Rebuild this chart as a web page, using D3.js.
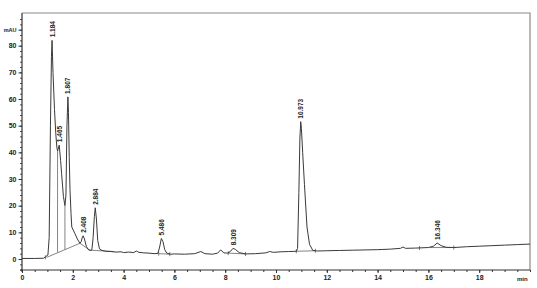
<!DOCTYPE html>
<html><head><meta charset="utf-8">
<script src="https://cdn.jsdelivr.net/npm/d3@7"></script>
<style>
html,body{margin:0;padding:0;background:#fff;}
svg{display:block;}
text{font-family:"Liberation Sans",Arial,sans-serif;}
</style></head>
<body>
<svg id="c" width="537" height="288"></svg>
<script>
// ---- data ----
const timeMin = [0.0,0.5,0.85,0.92,1.02,1.07,1.12,1.16,1.184,1.22,1.28,1.33,1.37,1.40,1.465,1.52,1.56,1.63,1.69,1.73,1.77,1.807,1.83,1.86,1.89,1.93,1.96,2.08,2.18,2.28,2.33,2.38,2.408,2.46,2.53,2.60,2.68,2.75,2.80,2.85,2.884,2.93,2.98,3.05,3.15,3.3,3.5,3.7,3.9,4.0,4.2,4.4,4.5,4.6,4.8,5.0,5.2,5.35,5.42,5.486,5.55,5.62,5.7,5.85,6.0,6.4,6.8,7.04,7.2,7.5,7.7,7.82,7.95,8.1,8.2,8.309,8.4,8.55,8.8,9.2,9.6,9.75,9.9,10.2,10.5,10.8,10.85,10.90,10.94,10.973,11.0,11.05,11.12,11.22,11.32,11.45,11.65,12.0,12.5,13.0,13.5,14.0,14.5,14.9,15.0,15.1,15.5,16.0,16.2,16.346,16.5,16.7,17.0,17.5,18.0,18.5,19.0,19.5,20.0];
const signalMAU = [0.2,0.2,0.3,0.8,1.5,8,50,76,82,70,56,47,42,40.5,42.7,37,32,23.5,20,24,50,60.8,55,38,26,17,12,9.6,7.5,5.9,6.5,8.3,8.7,7.5,4.8,3.6,3.2,3.4,8,16,19.2,15,7,3.8,3.2,2.9,2.8,2.6,2.7,2.4,2.6,2.4,3.0,2.5,2.3,2.2,2.0,2.1,4.5,7.7,6.5,3.5,2.2,1.8,1.9,1.8,2.0,2.8,2.0,1.8,2.2,3.4,2.3,2.2,2.8,4.0,3.6,2.4,1.9,2.0,2.3,2.8,2.5,2.7,2.8,2.9,4,25,45,51.5,49,40,28,12,5.5,3.2,3.0,3.1,3.2,3.3,3.4,3.5,3.7,4.0,4.5,4.0,4.1,4.3,4.8,6.0,5.0,4.4,4.3,4.6,4.8,5.0,5.2,5.4,5.6];

const peakLabels = ["1.184","1.465","1.807","2.408","2.884","5.486","8.309","10.973","16.346"];
const peakTimes  = [1.184,1.465,1.807,2.408,2.884,5.486,8.309,10.973,16.346];
const peakApex   = [82,42.7,60.8,8.7,19.2,7.7,4.0,51.5,6.0];

// integration baselines and drop lines: [t1, v1, t2, v2]
const integrationLines = [
  [0.97,0.6,2.28,5.9],[2.28,5.9,2.68,3.3],[2.68,3.3,3.62,2.8],
  [1.40,2.5,1.40,40.5],[1.69,3.5,1.69,20],
  [5.38,2.0,5.82,1.8],[8.12,2.2,8.8,1.9],[10.8,2.9,11.55,3.1],[16.05,4.3,16.9,4.3]
];
// integration event marks (short vertical ticks)
const eventTimes = [0.92,5.38,5.82,8.12,8.8,10.8,11.55,15.65,17.0];
const eventVals  = [0.6,2.0,1.8,2.2,1.9,2.9,3.1,4.1,4.3];

const xTicks = [0,2,4,6,8,10,12,14,16,18];
const yTicks = [0,10,20,30,40,50,60,70,80];

// ---- drawing ----
const svg = d3.select("#c");
const x = d3.scaleLinear().domain([0,20]).range([22,530]);
const y = d3.scaleLinear().domain([0,80]).range([259,45.7]);
const yTop = 13, yBottom = 270;

// frame (top and right)
svg.append("path").attr("d",`M${x(0)},${yTop}H${x(20)}V${yBottom}`)
  .attr("fill","none").attr("stroke","#8a8a8a").attr("stroke-width",1.2);

// x axis
const xMinor = d3.range(0,20.01,0.5);
const gx = svg.append("g").attr("transform",`translate(0,${yBottom})`);
gx.call(d3.axisBottom(x).tickValues(xMinor).tickSize(2).tickFormat(""));
gx.call(g=>g.select(".domain").remove());
const gx2 = svg.append("g").attr("transform",`translate(0,${yBottom})`);
gx2.call(d3.axisBottom(x).tickValues(xTicks).tickSize(3).tickPadding(2).tickFormat(d3.format("d")));
gx2.select(".domain").remove();
svg.append("line").attr("x1",x(0)-2).attr("x2",x(20)).attr("y1",yBottom).attr("y2",yBottom)
  .attr("stroke","#333").attr("stroke-width",1.2);
svg.selectAll(".tick line").attr("stroke","#333");
gx2.selectAll("text").attr("font-size",7).attr("font-weight","bold").attr("fill","#222");
svg.append("text").attr("x",x(19.7)).attr("y",yBottom+11).attr("text-anchor","middle")
  .attr("font-size",6).attr("font-weight","bold").attr("fill","#222").text("min");

// y axis
const yMinor = d3.range(-4,90.1,2);
const gy = svg.append("g").attr("transform",`translate(${x(0)},0)`);
gy.call(d3.axisLeft(y).tickValues(yMinor).tickSize(1.8).tickFormat(""));
gy.select(".domain").remove();
const gy2 = svg.append("g").attr("transform",`translate(${x(0)},0)`);
gy2.call(d3.axisLeft(y).tickValues(yTicks.concat([86])).tickSize(3.5).tickPadding(2)
  .tickFormat(d=>d===86?"mAU":d3.format("d")(d)));
gy2.select(".domain").remove();
gy2.selectAll("text").attr("font-size",7).attr("font-weight","bold").attr("fill","#222");
gy2.selectAll("text").filter(d=>d===86).attr("font-size",5.5);
svg.selectAll(".tick line").attr("stroke","#333");
svg.append("line").attr("x1",x(0)).attr("x2",x(0)).attr("y1",yTop).attr("y2",yBottom+2)
  .attr("stroke","#333").attr("stroke-width",1.2);

// integration lines
svg.append("g").selectAll("line").data(integrationLines).join("line")
  .attr("x1",d=>x(d[0])).attr("y1",d=>y(d[1])).attr("x2",d=>x(d[2])).attr("y2",d=>y(d[3]))
  .attr("stroke","#666").attr("stroke-width",0.8);
svg.append("g").selectAll("line").data(eventTimes).join("line")
  .attr("x1",d=>x(d)).attr("x2",d=>x(d))
  .attr("y1",(d,i)=>y(eventVals[i])-2).attr("y2",(d,i)=>y(eventVals[i])+2)
  .attr("stroke","#555").attr("stroke-width",0.8);

// chromatogram trace
const pts = timeMin.map((t,i)=>[t,signalMAU[i]]);
svg.append("path").datum(pts)
  .attr("d",d3.line().x(d=>x(d[0])).y(d=>y(d[1])))
  .attr("fill","none").attr("stroke","#3a3a3a").attr("stroke-width",1);

// peak labels
svg.append("g").selectAll("text").data(peakLabels).join("text")
  .attr("transform",(d,i)=>`translate(${x(peakTimes[i])+2.5},${y(peakApex[i])-3}) rotate(-90)`)
  .attr("font-size",6.5).attr("fill","#222").attr("font-weight","bold").text(d=>d);
</script>
</body></html>
